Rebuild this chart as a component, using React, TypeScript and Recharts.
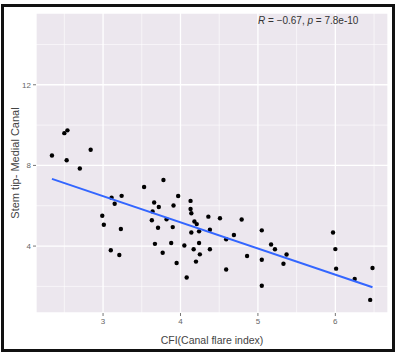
import React from 'react';
import {
  ScatterChart,
  Scatter,
  XAxis,
  YAxis,
  CartesianGrid,
} from 'recharts';

// CFI (canal flare index) vs stem tip - medial canal distance
const cfi = [
  2.34, 2.5, 2.54, 2.53, 2.7, 2.84, 2.99, 3.01, 3.1, 3.11, 3.15, 3.21, 3.23, 3.24,
  3.53, 3.63, 3.64, 3.66, 3.67, 3.71, 3.72, 3.77, 3.78, 3.82, 3.88, 3.9, 3.91, 3.95,
  3.97, 4.05, 4.08, 4.13, 4.13, 4.14, 4.14, 4.17, 4.18, 4.2, 4.21, 4.24, 4.24, 4.25,
  4.36, 4.38, 4.38, 4.51, 4.59, 4.59, 4.69, 4.79, 4.86, 5.05, 5.05, 5.05, 5.17, 5.22,
  5.33, 5.37, 5.97, 6.0, 6.01, 6.25, 6.48, 6.45,
];
const stemTip = [
  8.49, 9.6, 9.74, 8.26, 7.85, 8.78, 5.5, 5.06, 3.79, 6.4, 6.1, 3.56, 4.85, 6.49,
  6.93, 5.28, 5.72, 6.16, 4.11, 4.91, 5.94, 3.67, 7.28, 5.33, 4.15, 4.94, 6.01, 3.16,
  6.48, 4.03, 2.44, 6.24, 5.84, 5.63, 4.67, 3.84, 5.22, 3.23, 5.09, 4.73, 4.15, 3.59,
  5.46, 4.81, 3.84, 5.38, 4.34, 2.84, 4.55, 5.32, 3.51, 4.78, 3.32, 2.03, 4.08, 3.84,
  3.12, 3.58, 4.67, 3.85, 2.88, 2.37, 2.91, 1.33,
];

// fitted line ends
const fitX = [2.34, 6.48];
const fitY = [7.33, 1.96];

const xTicks = [3, 4, 5, 6];
const yTicks = [4, 8, 12];
const xMinor = [2.5, 3.5, 4.5, 5.5, 6.5];
const yMinor = [2, 6, 10, 14];

const points = cfi.map((x, i) => ({ x, y: stemTip[i] }));
const fit = fitX.map((x, i) => ({ x, y: fitY[i] }));

const FONT = '"Liberation Sans", Arial, sans-serif';

export default function App() {
  return (
    <div
      style={{
        position: 'absolute',
        left: 0,
        top: 0,
        width: 397,
        height: 356,
        background: '#fff',
        fontFamily: FONT,
      }}
    >
      <ScatterChart width={397} height={356} margin={{ top: 13, right: 9, bottom: 0, left: 0 }}>
        <CartesianGrid
          fill="#ECE7EE"
          stroke="#fff"
          strokeWidth={0.6}
          horizontalValues={yMinor}
          verticalValues={xMinor}
        />
        <CartesianGrid stroke="#fff" strokeWidth={1.3} />
        <XAxis
          type="number"
          dataKey="x"
          domain={[2.134, 6.68]}
          allowDataOverflow
          ticks={xTicks}
          height={43}
          axisLine={false}
          tickSize={3}
          tickMargin={2}
          tickLine={{ stroke: '#777' }}
          tick={{ fontSize: 8, fill: '#666', fontFamily: FONT }}
          label={{
            value: 'CFI(Canal flare index)',
            position: 'insideBottom',
            offset: 12,
            fontSize: 10.5,
            fill: '#444',
            fontFamily: FONT,
          }}
        />
        <YAxis
          type="number"
          dataKey="y"
          domain={[0.68, 15.56]}
          allowDataOverflow
          ticks={yTicks}
          width={36}
          axisLine={false}
          tickSize={3}
          tickMargin={2}
          tickLine={{ stroke: '#777' }}
          tick={{ fontSize: 8, fill: '#666', fontFamily: FONT }}
          label={{
            value: 'Stem tip- Medial Canal',
            angle: -90,
            position: 'insideLeft',
            offset: 15,
            fontSize: 11,
            fill: '#444',
            fontFamily: FONT,
            style: { textAnchor: 'middle' },
          }}
        />
        <Scatter
          data={points}
          isAnimationActive={false}
          shape={(p: any) => <circle cx={p.cx} cy={p.cy} r={2.2} fill="#000" />}
        />
        <Scatter
          data={fit}
          isAnimationActive={false}
          line={{ stroke: '#3366FF', strokeWidth: 2 }}
          shape={() => <g />}
        />
      </ScatterChart>

      {/* correlation annotation */}
      <div
        style={{
          position: 'absolute',
          left: 258,
          top: 15,
          fontSize: 10,
          lineHeight: '12px',
          color: '#333',
          whiteSpace: 'nowrap',
        }}
      >
        <i>R</i> = −0.67, <i>p</i> = 7.8e-10
      </div>

      {/* black frame */}
      <div
        style={{
          position: 'absolute',
          left: 1,
          top: 4,
          width: 394,
          height: 348,
          border: '3px solid #111',
          boxSizing: 'border-box',
          pointerEvents: 'none',
        }}
      />
    </div>
  );
}
